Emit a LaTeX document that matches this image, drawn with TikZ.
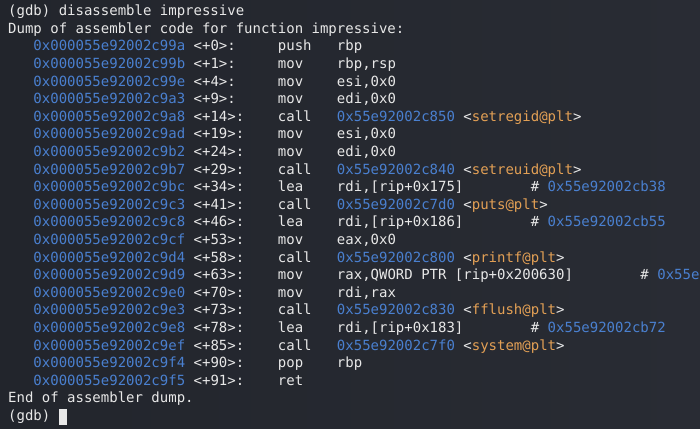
\documentclass[tikz,border=0pt]{standalone}
\usepackage{fontspec}
\setmonofont{DejaVu Sans Mono}
\definecolor{termbg}{HTML}{22252C}
\definecolor{termbgr}{HTML}{292C34}
\definecolor{termfg}{HTML}{E8E8E8}
\definecolor{termblue}{HTML}{4A80D0}
\definecolor{termorange}{HTML}{E3A055}

\begin{document}
\begin{tikzpicture}[x=8.43pt, y=-17.6pt,
    txt/.style={anchor=base west, inner sep=0pt, text=termfg, font=\ttfamily\fontsize{14}{17}\selectfont},
    addr/.style={txt, text=termblue}]
    \useasboundingbox (0,0) rectangle (700pt,-428pt);
    \fill[left color=termbg, right color=termbgr] (0,0) rectangle (700pt,-428pt);
    \begin{scope}[shift={(8pt,-15.7pt)}]
    \node[txt] (cmd) at (0,0) {(gdb) disassemble impressive};
    \node[txt] (head) at (0,1) {Dump of assembler code for function impressive:};
    % address, offset, mnemonic
    \foreach \i/\a/\o/\m in {2/99a/0/push, 3/99b/1/mov, 4/99e/4/mov, 5/9a3/9/mov, 6/9a8/14/call, 7/9ad/19/mov, 8/9b2/24/mov, 9/9b7/29/call, 10/9bc/34/lea, 11/9c3/41/call, 12/9c8/46/lea, 13/9cf/53/mov, 14/9d4/58/call, 15/9d9/63/mov, 16/9e0/70/mov, 17/9e3/73/call, 18/9e8/78/lea, 19/9ef/85/call, 20/9f4/90/pop, 21/9f5/91/ret} {
        \node[addr] (addr\i) at (3,\i) {0x000055e92002c\a};
        \node[txt] (off\i) at (22,\i) {<+\o>:};
        \node[txt] (mn\i) at (32,\i) {\m};
    }
    % plain operands
    \foreach \i/\r in {2/rbp, 3/{rbp,rsp}, 4/{esi,0x0}, 5/{edi,0x0}, 7/{esi,0x0}, 8/{edi,0x0}, 10/{rdi,[rip+0x175]}, 12/{rdi,[rip+0x186]}, 13/{eax,0x0}, 15/{rax,QWORD PTR [rip+0x200630]}, 16/{rdi,rax}, 18/{rdi,[rip+0x183]}, 20/rbp} {
        \node[txt] (arg\i) at (39,\i) {\r};
    }
    % call targets
    \foreach \i/\t/\f in {6/c850/setregid, 9/c840/setreuid, 11/c7d0/puts, 14/c800/printf, 17/c830/fflush, 19/c7f0/system} {
        \node[addr] (tgt\i) at (39,\i) {0x55e92002\t};
        \node[txt] (fn\i) at (54,\i) {<\textcolor{termorange}{\f @plt}>};
    }
    % comments
    \foreach \i/\c/\t in {10/62/0x55e92002cb38, 12/62/0x55e92002cb55, 15/75/0x55e, 18/62/0x55e92002cb72} {
        \node[txt] (hash\i) at (\c,\i) {\#};
        \node[addr] (cmt\i) at (\c+2,\i) {\t};
    }
    \node[txt] (tail) at (0,22) {End of assembler dump.};
    \node[txt] (prompt) at (0,23) {(gdb)};
    \node[fill=termfg, inner sep=0pt, minimum width=8.4pt, minimum height=15.5pt, anchor=south west, yshift=-4.5pt] (cursor) at (6,23) {};
    \end{scope}
\end{tikzpicture}
\end{document}
